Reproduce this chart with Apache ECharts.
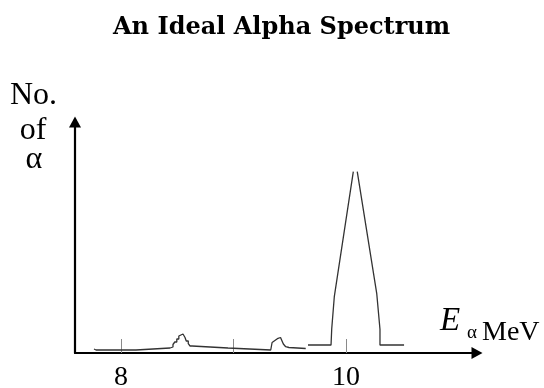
<!DOCTYPE html>
<html>
<head>
<meta charset="utf-8">
<title>An Ideal Alpha Spectrum</title>
<script src="https://cdn.jsdelivr.net/npm/echarts@6/dist/echarts.min.js"></script>
<style>
  html, body { margin: 0; padding: 0; background: #ffffff; }
  #chart { width: 544px; height: 388px; }
</style>
</head>
<body>
<div id="chart"></div>
<script>
// Energy axis (MeV): tick positions and the ones that carry a label
const energyTicks = [8, 9, 10];
const energyLabels = [8, 10];

// Counts per energy bin, as [E (MeV), number of alphas]
// Low-energy tail with the two small satellite bumps
const lowEnergyTrace = [
  [7.760, 4], [7.778, 3], [8.133, 3], [8.133, 5], [8.436, 5],
  [8.436, 6], [8.462, 6], [8.462, 8.5], [8.478, 8.5], [8.478, 11],
  [8.496, 11], [8.496, 14], [8.514, 14], [8.514, 17], [8.531, 17],
  [8.531, 19], [8.551, 19], [8.562, 18], [8.569, 15.5], [8.580, 15.5],
  [8.580, 12], [8.598, 12], [8.598, 9.3], [8.614, 9.3], [8.614, 7],
  [8.632, 7], [8.632, 5], [8.951, 5], [8.951, 3], [9.331, 3],
  [9.343, 10.5], [9.396, 14.7], [9.418, 15.5], [9.443, 9],
  [9.464, 6.3], [9.493, 5.5], [9.502, 4.5], [9.642, 4.5]
];
// Main line: rising edge
const mainPeakRise = [
  [9.662, 8], [9.867, 8], [9.873, 24], [9.896, 56.3], [10.065, 181.3]
];
// Main line: falling edge
const mainPeakFall = [
  [10.100, 181.3], [10.273, 59.7], [10.302, 23.7], [10.302, 8], [10.516, 8]
];

const serif = '"Liberation Serif", "DejaVu Serif", serif';
const traceStyle = { color: '#333333', width: 1.3 };

function traceSeries(data) {
  return {
    type: 'line',
    data: data,
    showSymbol: false,
    symbol: 'none',
    silent: true,
    lineStyle: traceStyle
  };
}

const chart = echarts.init(document.getElementById('chart'), null, { renderer: 'canvas' });

chart.setOption({
  animation: false,
  backgroundColor: '#ffffff',
  title: {
    text: 'An Ideal Alpha Spectrum',
    left: 108,
    top: 11,
    textStyle: {
      fontFamily: '"DejaVu Serif", serif',
      fontWeight: 'bold',
      fontSize: 24,
      color: '#000000'
    }
  },
  grid: { left: 75, right: 67, top: 122, bottom: 35, outerBoundsMode: 'none', containLabel: false },
  xAxis: {
    type: 'value',
    min: 7.5911,
    max: 11.1644,
    splitLine: { show: false },
    axisLine: {
      show: true,
      onZero: false,
      symbol: ['none', 'triangle'],
      symbolSize: [12, 11],
      lineStyle: { color: '#000000', width: 2.2 }
    },
    axisTick: {
      show: true,
      inside: true,
      length: 14,
      customValues: energyTicks,
      lineStyle: { color: '#8a8a8a', width: 1 }
    },
    axisLabel: {
      show: true,
      customValues: energyLabels,
      margin: 11,
      fontFamily: serif,
      fontSize: 28,
      color: '#000000'
    }
  },
  yAxis: {
    type: 'value',
    min: 0,
    max: 231,
    splitLine: { show: false },
    axisTick: { show: false },
    axisLabel: { show: false },
    axisLine: {
      show: true,
      onZero: false,
      symbol: ['none', 'triangle'],
      symbolSize: [12, 11],
      lineStyle: { color: '#000000', width: 2.2 }
    }
  },
  graphic: [
    { type: 'text', x: 33.5, y: 96, style: { text: 'No.', font: '32px ' + serif, fill: '#000', textAlign: 'center', textVerticalAlign: 'middle' } },
    { type: 'text', x: 33, y: 131, style: { text: 'of', font: '32px ' + serif, fill: '#000', textAlign: 'center', textVerticalAlign: 'middle' } },
    { type: 'text', x: 34, y: 160, style: { text: 'α', font: '32px ' + serif, fill: '#000', textAlign: 'center', textVerticalAlign: 'middle' } },
    { type: 'text', x: 440, y: 321, style: { text: 'E', font: 'italic 33px ' + serif, fill: '#000', textAlign: 'left', textVerticalAlign: 'middle' } },
    { type: 'text', x: 467, y: 333, style: { text: 'α', font: '19px ' + serif, fill: '#000', textAlign: 'left', textVerticalAlign: 'middle' } },
    { type: 'text', x: 482, y: 332.5, style: { text: 'MeV', font: '28px ' + serif, fill: '#000', textAlign: 'left', textVerticalAlign: 'middle' } }
  ],
  series: [
    traceSeries(lowEnergyTrace),
    traceSeries(mainPeakRise),
    traceSeries(mainPeakFall)
  ]
});
</script>
</body>
</html>
